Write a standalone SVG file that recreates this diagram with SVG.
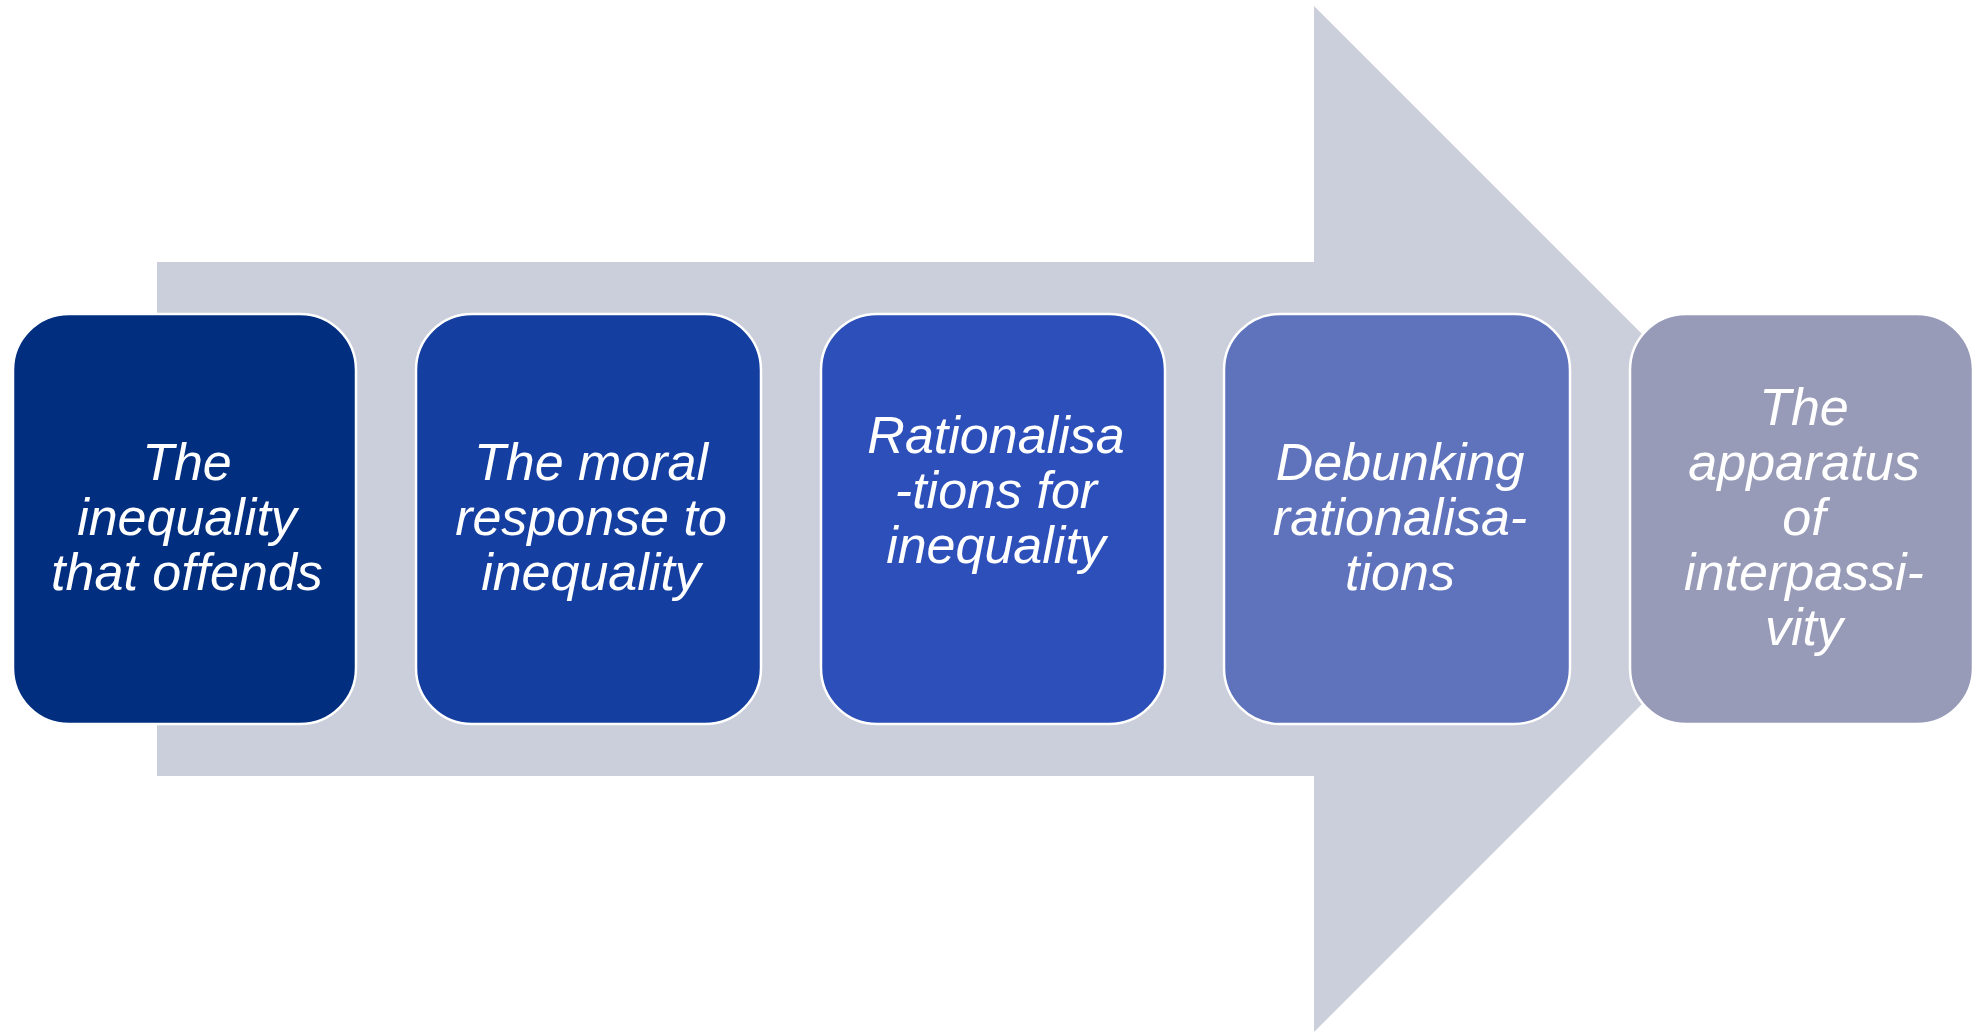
<svg xmlns="http://www.w3.org/2000/svg" width="1981" height="1032" viewBox="0 0 1981 1032">
  <style>
    .box { stroke: #ffffff; stroke-width: 2.5; }
    .label { font-family: "Liberation Sans", Arial, sans-serif; font-style: italic; font-size: 52px; fill: #ffffff; text-anchor: middle; }
  </style>
  <rect width="1981" height="1032" fill="#ffffff"/>
  <!-- Background process arrow -->
  <g id="connectors">
    <polygon points="157,262 1314,262 1314,6 1827,519 1314,1032 1314,776 157,776" fill="#cbcedb"/>
  </g>
  <g id="step1">
    <rect class="box" x="13" y="314" width="343" height="410" rx="56" fill="#022e80"/>
    <text class="label" x="187" y="480">The</text>
    <text class="label" x="187" y="535">inequality</text>
    <text class="label" x="187" y="590">that offends</text>
  </g>
  <g id="step2">
    <rect class="box" x="416" y="314" width="345" height="410" rx="56" fill="#143ea0"/>
    <text class="label" x="591" y="480">The moral</text>
    <text class="label" x="591" y="535">response to</text>
    <text class="label" x="591" y="590">inequality</text>
  </g>
  <g id="step3">
    <rect class="box" x="821" y="314" width="344" height="410" rx="56" fill="#2d4fb9"/>
    <text class="label" x="996" y="453">Rationalisa</text>
    <text class="label" x="996" y="508">-tions for</text>
    <text class="label" x="996" y="563">inequality</text>
  </g>
  <g id="step4">
    <rect class="box" x="1224" y="314" width="346" height="410" rx="56" fill="#5f72bc"/>
    <text class="label" x="1400" y="480">Debunking</text>
    <text class="label" x="1400" y="535">rationalisa-</text>
    <text class="label" x="1400" y="590">tions</text>
  </g>
  <g id="step5">
    <rect class="box" x="1630" y="314" width="343" height="410" rx="56" fill="#979bb8"/>
    <text class="label" x="1804" y="425">The</text>
    <text class="label" x="1804" y="480">apparatus</text>
    <text class="label" x="1804" y="535">of</text>
    <text class="label" x="1804" y="590">interpassi-</text>
    <text class="label" x="1804" y="645">vity</text>
  </g>
</svg>
